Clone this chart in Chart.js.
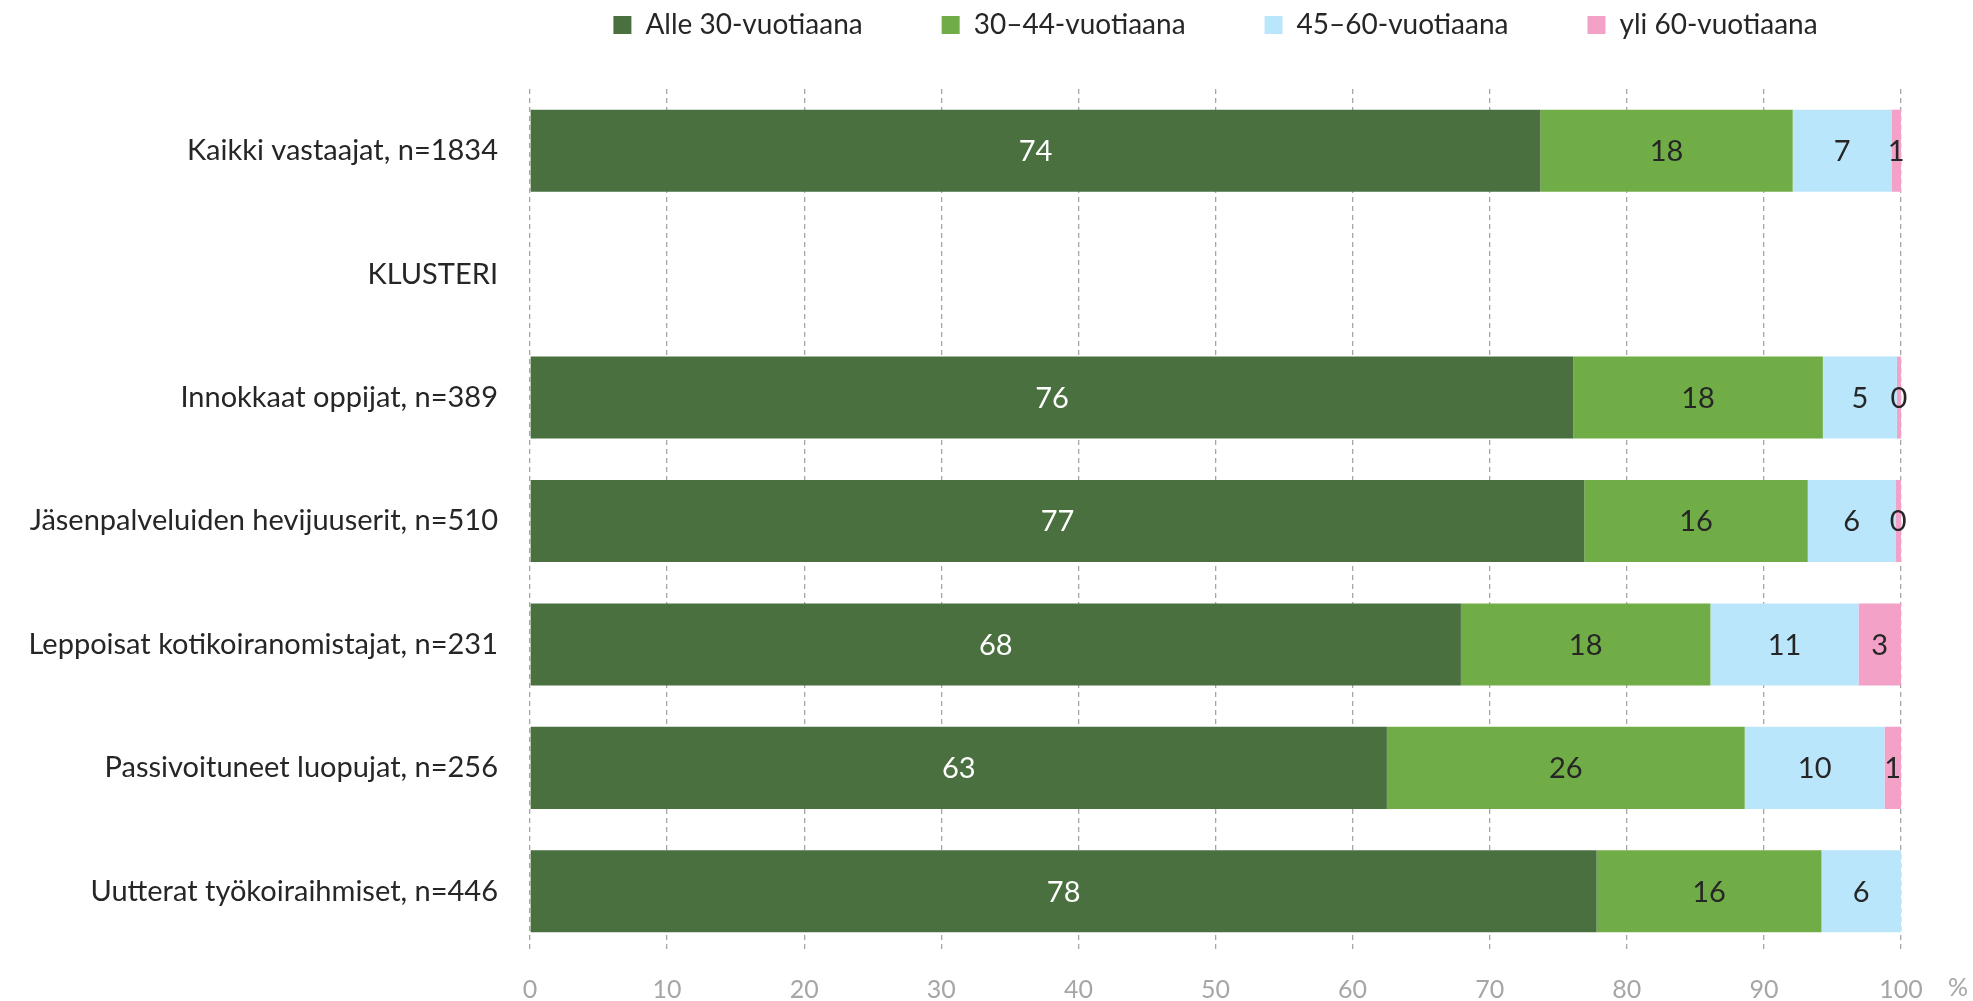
<!DOCTYPE html>
<html>
<head>
<meta charset="utf-8">
<script src="https://cdn.jsdelivr.net/npm/chart.js@4.4.0/dist/chart.umd.min.js"></script>
<style>
  body { margin: 0; background: #fff; }
  #wrap { width: 1973px; height: 1001px; }
</style>
</head>
<body>
<div id="wrap"><canvas id="ageChart" width="1973" height="1001"></canvas></div>
<script>
// kategoriat ja sarjat
const categories = [
    'Kaikki vastaajat, n=1834',
    'KLUSTERI',
    'Innokkaat oppijat, n=389',
    'Jäsenpalveluiden hevijuuserit, n=510',
    'Leppoisat kotikoiranomistajat, n=231',
    'Passivoituneet luopujat, n=256',
    'Uutterat työkoiraihmiset, n=446'
];
const seriesNames = ['Alle 30-vuotiaana', '30–44-vuotiaana', '45–60-vuotiaana', 'yli 60-vuotiaana'];
const under30 = [73.7, null, 76.1, 76.9, 67.9, 62.5, 77.8];
const age30to44 = [18.4, null, 18.2, 16.3, 18.2, 26.1, 16.4];
const age45to60 = [7.2, null, 5.4, 6.4, 10.8, 10.2, 5.8];
const over60 = [0.7, null, 0.3, 0.4, 3.1, 1.2, null];
const xTicks = [0, 10, 20, 30, 40, 50, 60, 70, 80, 90, 100];

const colors = ['#4A7040', '#70AD47', '#BAE6FC', '#F4A1C7'];
const fontFamily = 'Lato, "Open Sans", sans-serif';
const textColor = '#262626';
const gridColor = '#A6A6A6';

// arvot palkkien keskelle
const valueLabels = {
    id: 'valueLabels',
    afterDatasetsDraw(chart) {
        const ctx = chart.ctx;
        ctx.save();
        ctx.font = '29px ' + fontFamily;
        ctx.textAlign = 'center';
        ctx.textBaseline = 'middle';
        chart.data.datasets.forEach(function(ds, i) {
            const meta = chart.getDatasetMeta(i);
            meta.data.forEach(function(bar, j) {
                const v = ds.data[j];
                if (v === null || v === undefined) return;
                ctx.fillStyle = i === 0 ? '#FFFFFF' : textColor;
                ctx.fillText(String(Math.round(v)), (bar.x + bar.base) / 2, bar.y + 1);
            });
        });
        ctx.restore();
    }
};

// "%" akselin perään
const percentSign = {
    id: 'percentSign',
    afterDraw(chart) {
        const ctx = chart.ctx;
        const xs = chart.scales.x;
        ctx.save();
        ctx.font = '25px ' + fontFamily;
        ctx.fillStyle = gridColor;
        ctx.textAlign = 'center';
        ctx.textBaseline = 'middle';
        ctx.fillText('%', xs.right + 57, 988);
        ctx.restore();
    }
};

// legenda ylös
const legendNudge = {
    id: 'legendNudge',
    afterLayout(chart) {
        const lg = chart.legend;
        const pad = lg.options.labels.padding;
        const dy = lg.top + pad + 14 - 25;
        lg.top -= dy;
    }
};

const datasets = [under30, age30to44, age45to60, over60].map(function(arr, i) {
    return {
        label: seriesNames[i],
        data: arr,
        backgroundColor: colors[i],
        borderWidth: 0,
        categoryPercentage: 1,
        barPercentage: 0.665
    };
});

new Chart(document.getElementById('ageChart'), {
    type: 'bar',
    data: { labels: categories, datasets: datasets },
    plugins: [valueLabels, percentSign, legendNudge],
    options: {
        indexAxis: 'y',
        responsive: false,
        animation: false,
        devicePixelRatio: 1,
        layout: { padding: { top: 0, right: 72, bottom: 0, left: 0 } },
        plugins: {
            tooltip: { enabled: false },
            legend: {
                position: 'top',
                fullSize: false,
                maxHeight: 89,
                labels: {
                    font: { family: fontFamily, size: 28 },
                    color: textColor,
                    boxWidth: 18,
                    boxHeight: 18,
                    padding: 79
                }
            }
        },
        scales: {
            x: {
                stacked: true,
                min: 0,
                max: 100,
                afterBuildTicks(scale) {
                    scale.ticks = xTicks.map(v => ({ value: v }));
                },
                afterFit(scale) { scale.height = 48; },
                grid: {
                    color: gridColor,
                    lineWidth: 1.3,
                    drawTicks: false
                },
                border: { display: false, dash: [5, 4] },
                ticks: {
                    font: { family: fontFamily, size: 25 },
                    color: gridColor,
                    padding: 22
                }
            },
            y: {
                stacked: true,
                afterFit(scale) {
                    scale.width = 530;
                    scale.paddingTop = 0;
                    scale.paddingBottom = 0;
                },
                grid: { display: false, drawTicks: false },
                border: { display: false },
                ticks: {
                    font: { family: fontFamily, size: 29 },
                    color: textColor,
                    padding: 32
                }
            }
        }
    }
});
</script>
</body>
</html>
